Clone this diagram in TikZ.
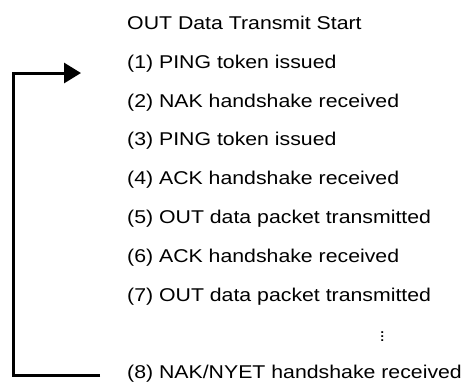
\documentclass[tikz,border=0pt]{standalone}
\usepackage{fontspec}
\setmainfont[FakeStretch=1.15]{Liberation Sans}
\usepackage{tikz}
\usetikzlibrary{arrows.meta}
\tikzset{
  steptext/.style={anchor=base west, inner sep=0pt, font=\fontsize{18.5bp}{22bp}\selectfont},
  loopline/.style={-{Triangle[length=17bp, width=20bp]}, line width=3bp, black},
}

\begin{document}
\begin{tikzpicture}[x=1bp, y=-1bp]
\useasboundingbox (0,0) rectangle (463,385);
% the transaction steps
\node[steptext] (title) at (127,29.5) {OUT Data Transmit Start};
\node[steptext] (l1) at (127,68.3) {(1) PING token issued};
\node[steptext] (l2) at (127,107.1) {(2) NAK handshake received};
\node[steptext] (l3) at (127,145.9) {(3) PING token issued};
\node[steptext] (l4) at (127,184.7) {(4) ACK handshake received};
\node[steptext] (l5) at (127,223.5) {(5) OUT data packet transmitted};
\node[steptext] (l6) at (127,262.3) {(6) ACK handshake received};
\node[steptext] (l7) at (127,301.1) {(7) OUT data packet transmitted};
\node[inner sep=0pt, font=\fontsize{17bp}{20bp}\selectfont] (dots) at (382.3,333.5) {$\vdots$};
\node[steptext] (l8) at (127,378.3) {(8) NAK/NYET handshake received};
% return loop back to the first PING
\coordinate (retstart) at (100,375);
\coordinate (rettip) at (81,73);
\draw[loopline] (retstart) -- ++(-87,0) |- (rettip);
\end{tikzpicture}
\end{document}
